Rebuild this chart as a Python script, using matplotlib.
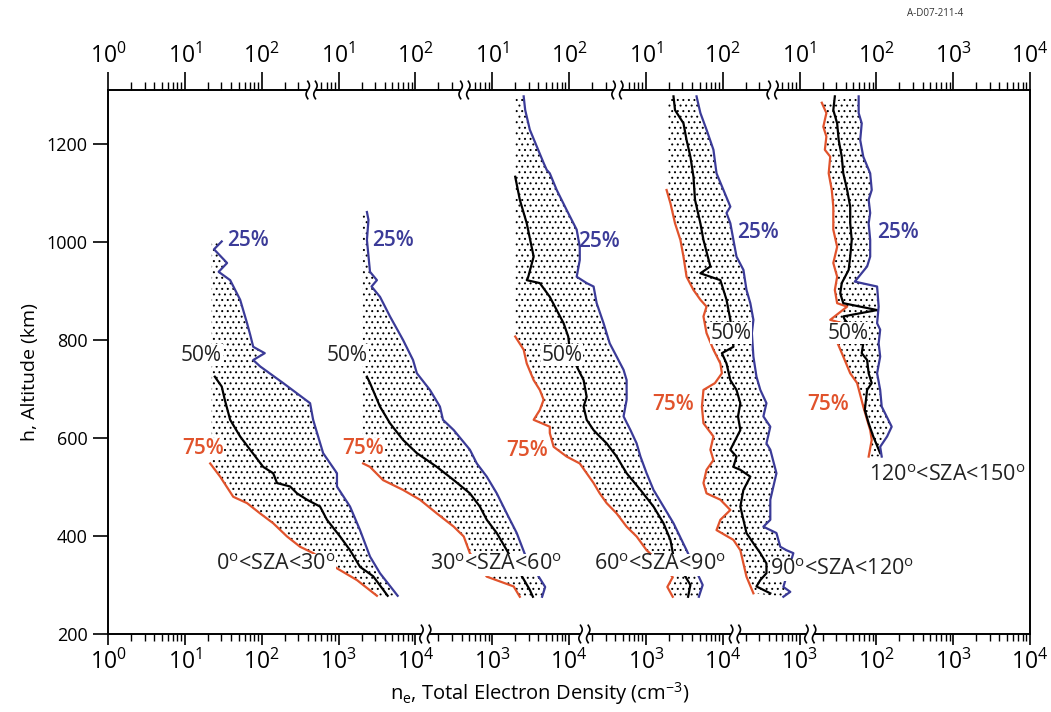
import numpy as np
import matplotlib
matplotlib.use("Agg")
from matplotlib import pyplot as plt

plt.rcParams['font.family'] = ['Open Sans', 'DejaVu Sans']
plt.rcParams['mathtext.fontset'] = 'custom'
plt.rcParams['mathtext.rm'] = 'Open Sans'
plt.rcParams['mathtext.it'] = 'Open Sans:italic'
plt.rcParams['hatch.linewidth'] = 0.7
plt.rcParams['hatch.color'] = 'black'

# each panel sits on the shared axis shifted by a number of decades
offsets = [0, 2, 4, 6, 8]
# log10 density of the lower cut-off (left edge of the band where 75% is missing)
floors = [1.35, 1.31, 1.30, 1.29, None]

# tick label exponents along the composite axis (positions 0..12)
top_exp = [0, 1, 2, 1, 2, 1, 2, 1, 2, 1, 2, 3, 4]
bottom_exp = [0, 1, 2, 3, 4, 3, 4, 3, 4, 3, 2, 3, 4]
top_breaks = [2.65, 4.64, 6.63, 8.65]
bottom_breaks = [4.13, 6.20, 8.16, 9.14]

# ---- 0 < SZA < 30 ----  (altitude km, log10 ne)
p1_h25 = [1001, 985, 957, 939, 922, 882, 834, 811, 786, 773, 759, 746, 712, 671, 637, 569, 528, 501, 460, 412, 358, 324, 278]
p1_lg25 = [1.48, 1.38, 1.55, 1.44, 1.59, 1.72, 1.81, 1.85, 1.89, 2.04, 1.89, 1.98, 2.28, 2.63, 2.67, 2.80, 2.98, 2.98, 3.15, 3.28, 3.41, 3.54, 3.77]
p1_h50 = [725, 705, 678, 637, 603, 576, 541, 528, 508, 501, 487, 474, 460, 433, 399, 371, 337, 318, 278]
p1_lg50 = [1.39, 1.48, 1.52, 1.59, 1.72, 1.85, 2.02, 2.15, 2.20, 2.37, 2.46, 2.59, 2.76, 2.85, 3.02, 3.15, 3.28, 3.45, 3.64]
p1_h75 = [548, 521, 480, 467, 446, 426, 399, 378, 365, 334, 310, 278]
p1_lg75 = [1.33, 1.46, 1.63, 1.81, 1.98, 2.15, 2.33, 2.50, 2.67, 2.98, 3.24, 3.50]

# ---- 30 < SZA < 60 ----
p2_h25 = [1061, 1045, 1004, 939, 922, 909, 888, 848, 800, 759, 732, 698, 664, 637, 616, 576, 548, 521, 487, 446, 406, 361, 296, 276]
p2_lg25 = [1.37, 1.39, 1.37, 1.41, 1.50, 1.43, 1.54, 1.67, 1.84, 1.97, 2.02, 2.19, 2.32, 2.36, 2.50, 2.71, 2.80, 2.93, 3.06, 3.19, 3.32, 3.43, 3.69, 3.65]
p2_h50 = [725, 712, 664, 630, 596, 569, 541, 514, 487, 460, 433, 406, 371, 290, 276]
p2_lg50 = [1.37, 1.41, 1.54, 1.67, 1.84, 2.02, 2.28, 2.50, 2.71, 2.84, 2.93, 3.06, 3.19, 3.49, 3.53]
p2_h75 = [548, 541, 514, 494, 474, 446, 419, 399, 365, 317, 297, 276]
p2_lg75 = [1.32, 1.41, 1.58, 1.84, 2.06, 2.28, 2.50, 2.63, 2.71, 2.93, 3.28, 3.36]

# ---- 60 < SZA < 90 ----
p3_h25 = [1297, 1269, 1229, 1195, 1161, 1147, 1140, 1106, 1065, 1025, 990, 963, 929, 916, 909, 875, 834, 793, 766, 739, 718, 678, 644, 616, 589, 562, 528, 494, 460, 426, 371, 300, 276]
p3_lg25 = [1.41, 1.43, 1.49, 1.58, 1.67, 1.71, 1.75, 1.84, 1.97, 2.10, 2.14, 2.14, 2.10, 2.23, 2.32, 2.36, 2.45, 2.53, 2.62, 2.71, 2.75, 2.75, 2.71, 2.80, 2.88, 2.93, 3.01, 3.10, 3.23, 3.36, 3.53, 3.74, 3.69]
p3_h50 = [1133, 1086, 1038, 970, 929, 922, 916, 888, 861, 834, 807, 780, 746, 718, 684, 664, 637, 616, 603, 589, 562, 528, 494, 460, 426, 392, 358, 300, 276]
p3_lg50 = [1.30, 1.36, 1.45, 1.54, 1.47, 1.45, 1.62, 1.75, 1.84, 1.93, 1.99, 2.01, 2.10, 2.19, 2.23, 2.19, 2.23, 2.32, 2.40, 2.49, 2.62, 2.75, 2.93, 3.10, 3.23, 3.32, 3.36, 3.58, 3.55]
p3_h75 = [807, 780, 752, 718, 698, 678, 657, 637, 623, 610, 582, 562, 548, 528, 508, 487, 467, 446, 419, 399, 371, 358, 316, 296, 276]
p3_lg75 = [1.30, 1.41, 1.45, 1.54, 1.62, 1.67, 1.62, 1.54, 1.75, 1.75, 1.80, 1.97, 2.14, 2.23, 2.32, 2.40, 2.49, 2.62, 2.75, 2.88, 3.01, 3.10, 3.35, 3.28, 3.35]

# ---- 90 < SZA < 120 ----
p4_h25 = [1297, 1263, 1229, 1188, 1140, 1106, 1072, 1059, 1038, 1004, 970, 943, 902, 875, 841, 814, 766, 725, 698, 671, 644, 623, 589, 576, 528, 501, 474, 446, 433, 419, 406, 378, 371, 365, 296, 286, 276]
p4_lg25 = [1.66, 1.71, 1.79, 1.88, 1.92, 2.01, 2.10, 2.05, 2.10, 2.14, 2.18, 2.27, 2.31, 2.36, 2.40, 2.38, 2.40, 2.44, 2.49, 2.57, 2.53, 2.62, 2.57, 2.62, 2.70, 2.66, 2.62, 2.62, 2.62, 2.53, 2.70, 2.75, 2.83, 2.92, 2.79, 2.88, 2.79]
p4_h50 = [1297, 1269, 1242, 1208, 1174, 1133, 1086, 1038, 1004, 950, 936, 922, 902, 882, 841, 786, 773, 752, 718, 698, 671, 644, 616, 576, 562, 541, 535, 521, 494, 460, 433, 406, 385, 365, 344, 324, 310, 297, 283]
p4_lg50 = [1.36, 1.38, 1.49, 1.53, 1.58, 1.62, 1.64, 1.71, 1.75, 1.84, 1.71, 1.97, 2.01, 2.05, 2.10, 2.14, 1.99, 2.05, 2.10, 2.18, 2.23, 2.20, 2.23, 2.10, 2.18, 2.14, 2.23, 2.36, 2.27, 2.23, 2.27, 2.31, 2.40, 2.49, 2.57, 2.57, 2.49, 2.44, 2.62]
p4_h75 = [1106, 1079, 1038, 1004, 970, 929, 902, 882, 868, 848, 814, 780, 752, 732, 712, 698, 664, 630, 603, 576, 555, 535, 508, 487, 474, 453, 433, 412, 392, 371, 344, 317, 283]
p4_lg75 = [1.27, 1.32, 1.38, 1.45, 1.49, 1.53, 1.62, 1.71, 1.79, 1.75, 1.79, 1.88, 1.97, 1.99, 1.90, 1.75, 1.73, 1.75, 1.88, 1.84, 1.88, 1.79, 1.75, 1.79, 1.97, 2.10, 1.97, 1.92, 2.14, 2.23, 2.27, 2.31, 2.40]

# ---- 120 < SZA < 150 ----
p5_h25 = [1297, 1263, 1242, 1208, 1174, 1140, 1106, 1086, 1059, 1038, 1004, 970, 950, 919, 909, 868, 834, 821, 793, 766, 732, 698, 664, 623, 603, 582, 562]
p5_lg25 = [1.77, 1.77, 1.81, 1.79, 1.83, 1.92, 1.94, 1.90, 1.92, 1.90, 1.92, 1.92, 1.88, 1.72, 2.01, 2.03, 2.01, 2.05, 2.03, 2.05, 2.01, 2.05, 2.07, 2.20, 2.14, 2.05, 2.07]
p5_h50 = [1297, 1269, 1242, 1208, 1174, 1140, 1106, 1072, 1038, 1004, 970, 943, 916, 895, 875, 861, 848, 841, 810, 793, 773, 759, 732, 712, 698, 657, 630, 603, 569]
p5_lg50 = [1.46, 1.44, 1.49, 1.51, 1.55, 1.57, 1.62, 1.66, 1.66, 1.68, 1.66, 1.64, 1.55, 1.53, 1.57, 2.01, 1.57, 1.59, 1.77, 1.83, 1.81, 1.88, 1.90, 1.94, 1.88, 1.85, 1.90, 1.96, 2.05]
p5_h75 = [1284, 1263, 1235, 1215, 1188, 1174, 1140, 1106, 1072, 1025, 990, 957, 929, 902, 875, 868, 841, 827, 814, 766, 732, 712, 664, 637, 616, 596, 562]
p5_lg75 = [1.29, 1.35, 1.31, 1.35, 1.33, 1.40, 1.38, 1.42, 1.44, 1.44, 1.49, 1.44, 1.49, 1.46, 1.49, 1.62, 1.40, 1.72, 1.44, 1.57, 1.66, 1.75, 1.83, 1.88, 1.92, 1.94, 1.90]

sza_labels = [r'0$^\mathrm{o}$<SZA<30$^\mathrm{o}$', r'30$^\mathrm{o}$<SZA<60$^\mathrm{o}$',
              r'60$^\mathrm{o}$<SZA<90$^\mathrm{o}$', r'90$^\mathrm{o}$<SZA<120$^\mathrm{o}$',
              r'120$^\mathrm{o}$<SZA<150$^\mathrm{o}$']

BLUE = '#3b3b98'
RED = '#e1532c'

fig = plt.figure(figsize=(10.51, 7.12), dpi=100)
ax = fig.add_axes([108/1051, 1-634/712, 922/1051, 544/712])
ax.set_xlim(0, 12)
ax.set_ylim(200, 1310)

panels = [
    (p1_h25, p1_lg25, p1_h50, p1_lg50, p1_h75, p1_lg75),
    (p2_h25, p2_lg25, p2_h50, p2_lg50, p2_h75, p2_lg75),
    (p3_h25, p3_lg25, p3_h50, p3_lg50, p3_h75, p3_lg75),
    (p4_h25, p4_lg25, p4_h50, p4_lg50, p4_h75, p4_lg75),
    (p5_h25, p5_lg25, p5_h50, p5_lg50, p5_h75, p5_lg75),
]

for (h25, lg25, h50, lg50, h75, lg75), off, floor in zip(panels, offsets, floors):
    x25 = np.array(lg25) + off
    x50 = np.array(lg50) + off
    x75 = np.array(lg75) + off
    # left edge of the dotted band: cut-off floor above the 75% curve, then the curve
    if floor is not None:
        left_x = np.concatenate([[floor + off, floor + off], x75])
        left_h = np.concatenate([[h25[0], h75[0]], h75])
    else:
        left_x, left_h = x75, np.array(h75)
    px = np.concatenate([x25, left_x[::-1]])
    py = np.concatenate([h25, left_h[::-1]])
    ax.fill(px, py, facecolor='white', edgecolor='black', hatch='...', linewidth=0, zorder=1)
    ax.plot(x75, h75, color=RED, lw=1.6, zorder=2)
    ax.plot(x50, h50, color='black', lw=1.6, zorder=2)
    ax.plot(x25, h25, color=BLUE, lw=1.6, zorder=2)

# labels  (x in composite decades, altitude)
pct_pos = [
    [(1.55, 1002), (0.95, 769), (0.96, 578)],
    [(3.44, 1002), (2.85, 769), (3.05, 578)],
    [(6.12, 1000), (5.64, 769), (5.18, 574)],
    [(8.19, 1020), (7.84, 814), (7.09, 669)],
    [(10.01, 1020), (9.36, 814), (9.10, 669)],
]
sza_pos = [(1.41, 341), (4.19, 341), (6.33, 341), (8.62, 331), (9.90, 524)]

for (p25, p50, p75), (sx, sy), txt in zip(pct_pos, sza_pos, sza_labels):
    ax.text(p25[0], p25[1], '25%', color=BLUE, fontsize=15, fontweight='semibold',
            va='center', ha='left', zorder=4)
    ax.text(p50[0], p50[1], '50%', color='#222222', fontsize=15, va='center', ha='left', zorder=4,
            bbox=dict(facecolor='white', edgecolor='none', pad=0.5))
    ax.text(p75[0], p75[1], '75%', color=RED, fontsize=15, fontweight='semibold',
            va='center', ha='left', zorder=4,
            bbox=dict(facecolor='white', edgecolor='none', pad=0.5))
    ax.text(sx, sy, txt, color='#222222', fontsize=15.5, va='center', ha='left', zorder=4,
            bbox=dict(facecolor='white', edgecolor='none', pad=0.5))

# y axis
ax.set_yticks(range(200, 1201, 200))
ax.tick_params(axis='y', direction='out', length=11, width=1.2, labelsize=13)
ax.set_ylabel('h, Altitude (km)', fontsize=14, labelpad=8)
ax.yaxis.set_label_coords(-0.075, 0.482)
for s in ['left', 'right']:
    ax.spines[s].set_linewidth(1.4)
ax.spines['top'].set_visible(False)
ax.spines['bottom'].set_visible(False)


def minor_positions(breaks):
    pos = []
    for n in range(12):
        for k in range(2, 10):
            p = n + np.log10(k)
            if min(abs(p - b) for b in breaks) > 0.075:
                pos.append(p)
    return pos


def axis_line(y, breaks):
    edges = [0] + [v for b in breaks for v in (b - 0.06, b + 0.06)] + [12]
    trans = ax.get_xaxis_transform()
    for a, b in zip(edges[0::2], edges[1::2]):
        ax.plot([a, b], [y, y], color='black', lw=1.4, transform=trans, clip_on=False, zorder=5)
    t = np.linspace(-1, 1, 30)
    for b in breaks:
        for c in (b - 0.05, b + 0.05):
            ax.plot(c + 0.022 * np.sin(np.pi * t), y + 0.016 * t, color='black', lw=1.2,
                    transform=trans, clip_on=False, zorder=5)


axis_line(0, bottom_breaks)
axis_line(1, top_breaks)

ax.set_xticks(range(13))
ax.set_xticklabels([r'$10^{%d}$' % e for e in bottom_exp])
ax.set_xticks(minor_positions(bottom_breaks), minor=True)
ax.tick_params(axis='x', which='major', direction='out', length=8, width=1.2, labelsize=16.5, pad=3)
ax.tick_params(axis='x', which='minor', direction='out', length=5, width=1.0)
ax.set_xlabel(r'n$_\mathrm{e}$, Total Electron Density (cm$^{-3}$)', fontsize=14.5)
ax.xaxis.set_label_coords(0.4685, -0.085)

secax = ax.secondary_xaxis('top')
secax.set_xticks(range(13))
secax.set_xticklabels([r'$10^{%d}$' % e for e in top_exp])
secax.set_xticks(minor_positions(top_breaks), minor=True)
secax.spines['top'].set_visible(False)
secax.tick_params(axis='x', which='major', direction='out', length=13, width=1.2, labelsize=16.5, pad=2)
secax.tick_params(axis='x', which='minor', direction='out', length=6, width=1.0)

fig.text(935/1051, 1 - 14/712, 'A-D07-211-4', fontsize=7, ha='center', va='center', color='#333333')

fig.savefig('out.png', dpi=100)
